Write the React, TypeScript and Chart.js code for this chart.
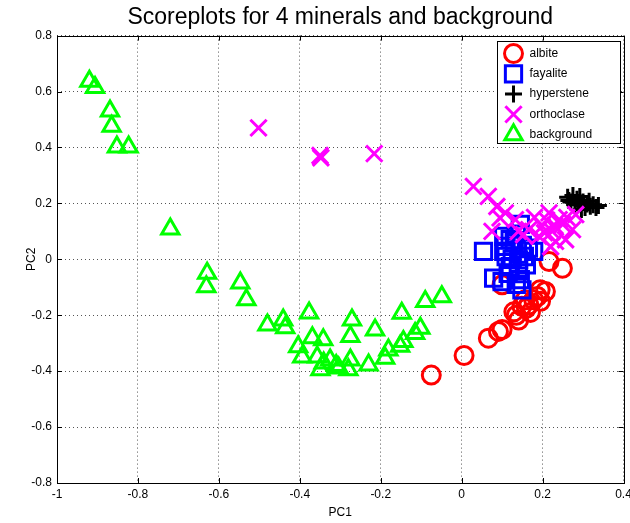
import React, { useEffect, useRef } from 'react';
import { Chart, registerables } from 'chart.js';

Chart.register(...registerables);

const TITLE = 'Scoreplots for 4 minerals and background';
const X_LABEL = 'PC1';
const Y_LABEL = 'PC2';
const SERIES_NAMES = ['albite', 'fayalite', 'hyperstene', 'orthoclase', 'background'];
const X_MIN = -1;
const X_MAX = 0.4;
const Y_MIN = -0.8;
const Y_MAX = 0.8;
const TICK_STEP = 0.2;

const albiteX = [-0.075, 0.006, 0.066, 0.091, 0.100, 0.129, 0.141, 0.149, 0.166, 0.178, 0.187, 0.207, 0.216, 0.249, 0.100, 0.157, 0.194, 0.170, 0.135, 0.160, 0.195];
const albiteY = [-0.414, -0.344, -0.282, -0.258, -0.251, -0.188, -0.217, -0.168, -0.163, -0.145, -0.133, -0.115, -0.008, -0.032, -0.091, -0.145, -0.109, -0.190, -0.200, -0.175, -0.150];

const fayaliteX = [0.054, 0.104, 0.178, 0.079, 0.149, 0.145, 0.120, 0.100, 0.108, 0.141, 0.145, 0.104, 0.130, 0.150, 0.125, 0.140, 0.115, 0.155, 0.165, 0.135, 0.120, 0.135, 0.160, 0.110];
const fayaliteY = [0.028, 0.028, 0.028, -0.067, -0.109, -0.073, -0.026, -0.080, 0.046, -0.002, 0.125, 0.082, 0.060, 0.050, 0.000, -0.040, -0.050, 0.010, 0.040, 0.090, 0.070, -0.090, -0.020, 0.010];

const hypersteneX = [0.262, 0.275, 0.285, 0.292, 0.300, 0.310, 0.318, 0.325, 0.305, 0.290, 0.270, 0.280, 0.296, 0.315, 0.265, 0.332, 0.338];
const hypersteneY = [0.222, 0.228, 0.215, 0.225, 0.205, 0.198, 0.190, 0.195, 0.185, 0.200, 0.205, 0.195, 0.178, 0.208, 0.210, 0.185, 0.192];

const orthoclaseX = [-0.502, -0.350, -0.348, -0.216, 0.029, 0.066, 0.087, 0.108, 0.095, 0.075, 0.133, 0.153, 0.216, 0.282, 0.241, 0.166, 0.224, 0.274, 0.199, 0.257, 0.232, 0.191, 0.210, 0.250, 0.180, 0.230, 0.205, 0.260, 0.140, 0.220];
const orthoclaseY = [0.470, 0.371, 0.363, 0.378, 0.261, 0.225, 0.189, 0.166, 0.148, 0.100, 0.142, 0.088, 0.166, 0.160, 0.142, 0.106, 0.100, 0.106, 0.118, 0.070, 0.064, 0.082, 0.140, 0.125, 0.150, 0.120, 0.095, 0.150, 0.100, 0.045];

const backgroundX = [-0.920, -0.906, -0.869, -0.865, -0.852, -0.823, -0.720, -0.629, -0.631, -0.547, -0.532, -0.480, -0.441, -0.436, -0.377, -0.404, -0.369, -0.342, -0.394, -0.357, -0.349, -0.090, -0.049, -0.148, -0.271, -0.275, -0.214, -0.102, -0.115, -0.144, -0.152, -0.181, -0.189, -0.230, -0.275, -0.280, -0.304, -0.341, -0.325, -0.310];
const backgroundY = [0.637, 0.614, 0.530, 0.476, 0.402, 0.402, 0.108, -0.050, -0.098, -0.085, -0.145, -0.235, -0.217, -0.245, -0.192, -0.313, -0.281, -0.288, -0.349, -0.349, -0.395, -0.151, -0.134, -0.193, -0.217, -0.276, -0.253, -0.247, -0.265, -0.294, -0.311, -0.324, -0.354, -0.378, -0.360, -0.395, -0.389, -0.371, -0.360, -0.380];

const COLORS = ['#ff0000', '#0000ff', '#000000', '#ff00ff', '#00ff00'];
const STYLES = ['circle', 'rect', 'cross', 'crossRot', 'triangle'];
const RADII = [9, 11.5, 8.5, 11.5, 10];
const FONT_FAMILY = '"Liberation Sans", Arial, Helvetica, sans-serif';

function pts(xs: number[], ys: number[]) {
  return xs.map((x, i) => ({ x, y: ys[i] }));
}

function drawMarker(ctx: CanvasRenderingContext2D, style: string, x: number, y: number, r: number) {
  ctx.beginPath();
  if (style === 'circle') {
    ctx.arc(x, y, r, 0, Math.PI * 2);
  } else if (style === 'rect') {
    const h = r * Math.SQRT1_2;
    ctx.rect(x - h, y - h, 2 * h, 2 * h);
  } else if (style === 'cross') {
    ctx.moveTo(x - r, y); ctx.lineTo(x + r, y);
    ctx.moveTo(x, y - r); ctx.lineTo(x, y + r);
  } else if (style === 'crossRot') {
    const h = r * Math.SQRT1_2;
    ctx.moveTo(x - h, y - h); ctx.lineTo(x + h, y + h);
    ctx.moveTo(x - h, y + h); ctx.lineTo(x + h, y - h);
  } else if (style === 'triangle') {
    let a = 0;
    ctx.moveTo(x + Math.sin(a) * r, y - Math.cos(a) * r);
    a += (2 * Math.PI) / 3;
    ctx.lineTo(x + Math.sin(a) * r, y - Math.cos(a) * r);
    a += (2 * Math.PI) / 3;
    ctx.lineTo(x + Math.sin(a) * r, y - Math.cos(a) * r);
    ctx.closePath();
  }
  ctx.stroke();
}

const framePlugin = {
  id: 'matlabFrame',
  afterDatasetsDraw(chart: any) {
    const { ctx, chartArea } = chart;
    const { left, right, top, bottom } = chartArea;
    const xs = chart.scales.x;
    const ys = chart.scales.y;
    ctx.save();
    ctx.strokeStyle = '#000';
    ctx.lineWidth = 1;
    ctx.setLineDash([]);
    const tl = 5;
    ctx.beginPath();
    xs.ticks.forEach((t: any) => {
      const px = Math.round(xs.getPixelForValue(t.value)) + 0.5;
      ctx.moveTo(px, bottom); ctx.lineTo(px, bottom - tl);
      ctx.moveTo(px, top); ctx.lineTo(px, top + tl);
    });
    ys.ticks.forEach((t: any) => {
      const py = Math.round(ys.getPixelForValue(t.value)) + 0.5;
      ctx.moveTo(left, py); ctx.lineTo(left + tl, py);
      ctx.moveTo(right, py); ctx.lineTo(right - tl, py);
    });
    ctx.stroke();
    ctx.strokeRect(Math.round(left) + 0.5, Math.round(top) + 0.5, Math.round(right - left), Math.round(bottom - top));

    const bw = 123;
    const bh = 102;
    const bx = Math.round(right - bw - 4) + 0.5;
    const by = Math.round(top + 5) + 0.5;
    ctx.fillStyle = '#fff';
    ctx.fillRect(bx, by, bw, bh);
    ctx.strokeStyle = '#000';
    ctx.lineWidth = 1;
    ctx.strokeRect(bx, by, bw, bh);
    ctx.font = `12px ${FONT_FAMILY}`;
    ctx.textBaseline = 'middle';
    ctx.textAlign = 'left';
    SERIES_NAMES.forEach((name, i) => {
      const cy = by + 12 + i * 20.3;
      ctx.strokeStyle = COLORS[i];
      ctx.lineWidth = 3;
      drawMarker(ctx, STYLES[i], bx + 16, cy, RADII[i]);
      ctx.fillStyle = '#000';
      ctx.fillText(name, bx + 32, cy);
    });
    ctx.restore();
  },
};

function fmt(v: number) {
  const r = Math.round(v * 10) / 10;
  return Object.is(r, -0) ? '0' : String(r);
}

const zeroPad = () => ({ left: 0, right: 0, top: 0, bottom: 0 });

export default function App() {
  const ref = useRef<HTMLCanvasElement | null>(null);
  useEffect(() => {
    if (!ref.current) return;
    const seriesX = [albiteX, fayaliteX, hypersteneX, orthoclaseX, backgroundX];
    const seriesY = [albiteY, fayaliteY, hypersteneY, orthoclaseY, backgroundY];
    const datasets = SERIES_NAMES.map((name, i) => ({
      label: name,
      data: pts(seriesX[i], seriesY[i]),
      pointStyle: STYLES[i],
      pointRadius: RADII[i],
      pointBorderColor: COLORS[i],
      pointBackgroundColor: 'rgba(0,0,0,0)',
      pointBorderWidth: 3,
      borderColor: COLORS[i],
      backgroundColor: 'rgba(0,0,0,0)',
      order: SERIES_NAMES.length - i,
    }));
    const tickFont = { family: FONT_FAMILY, size: 12 };
    const chart = new Chart(ref.current, {
      type: 'scatter',
      data: { datasets },
      plugins: [framePlugin],
      options: {
        responsive: false,
        animation: false,
        layout: { autoPadding: false, padding: { left: 0, right: 6.5, top: 0, bottom: 0 } },
        plugins: {
          legend: { display: false },
          tooltip: { enabled: false },
          title: {
            display: true,
            fullSize: false,
            text: TITLE,
            color: '#000',
            font: { family: FONT_FAMILY, size: 23, weight: 'normal' },
            padding: { top: 4, bottom: 4 },
          },
        },
        scales: {
          x: {
            type: 'linear',
            min: X_MIN,
            max: X_MAX,
            ticks: {
              stepSize: TICK_STEP,
              color: '#000',
              font: tickFont,
              padding: 4,
              maxRotation: 0,
              callback: (v: any) => fmt(Number(v)),
            },
            grid: { color: '#555', drawTicks: false, lineWidth: 1 },
            border: { display: false, dash: [1, 3] },
            title: { display: true, text: X_LABEL, color: '#000', font: tickFont, padding: { top: 0, bottom: 3 } },
            afterFit: (s: any) => {
              s.height = 40; s.paddingLeft = 0; s.paddingRight = 0;
              s.getPadding = zeroPad;
            },
          },
          y: {
            type: 'linear',
            min: Y_MIN,
            max: Y_MAX,
            ticks: {
              stepSize: TICK_STEP,
              color: '#000',
              font: tickFont,
              padding: 5,
              callback: (v: any) => fmt(Number(v)),
            },
            grid: { color: '#555', drawTicks: false, lineWidth: 1 },
            border: { display: false, dash: [1, 3] },
            title: { display: true, text: Y_LABEL, color: '#000', font: tickFont, padding: { top: 24, bottom: 0 } },
            afterFit: (s: any) => {
              s.width = 57; s.paddingTop = 0; s.paddingBottom = 0;
              s.getPadding = zeroPad;
            },
          },
        },
      },
    } as any);
    return () => chart.destroy();
  }, []);
  return (
    <div style={{ position: 'absolute', left: 0, top: 0, width: 630, height: 523, background: '#fff' }}>
      <canvas ref={ref} width={630} height={523} style={{ display: 'block' }} />
    </div>
  );
}
